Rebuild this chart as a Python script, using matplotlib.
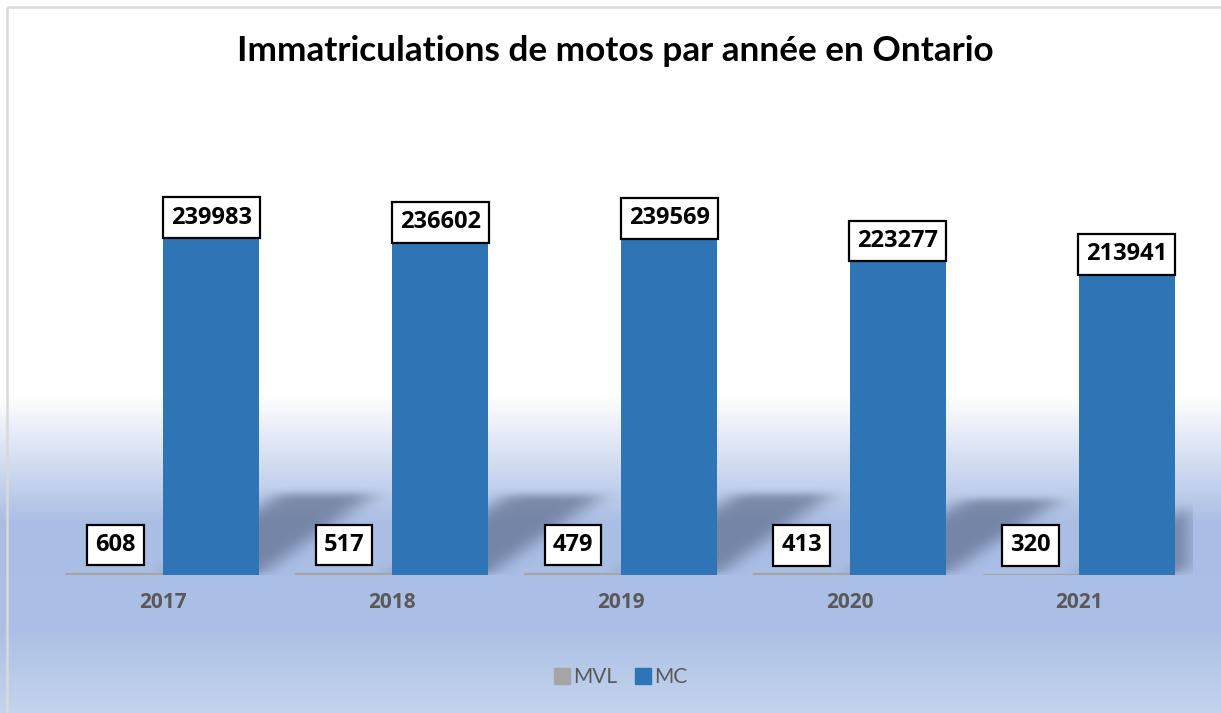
import numpy as np
import matplotlib
matplotlib.use("Agg")
import matplotlib.pyplot as plt
from matplotlib.path import Path
from matplotlib.lines import Line2D

# ---- data ----
years = ["2017", "2018", "2019", "2020", "2021"]
mvl = [608, 517, 479, 413, 320]
mc = [239983, 236602, 239569, 223277, 213941]
series_names = ["MVL", "MC"]
title = "Immatriculations de motos par année en Ontario"

GRAY = "#a5a5a5"
BLUE = "#2e75b6"
TXT = "#595959"
FONT = "Lato"
NUMFONT = "Open Sans"

W, H = 1221, 713
fig = plt.figure(figsize=(W / 100, H / 100), dpi=100)

# ---- background gradient ----
bg = fig.add_axes([0, 0, 1, 1], zorder=0)
bg.set_axis_off()
ys = np.arange(H)  # pixel rows from top
stops_y = [0, 395, 522, 630, 713]
stops_c = np.array([[255, 255, 255], [255, 255, 255], [170, 190, 228],
                    [172, 192, 229], [196, 212, 237]]) / 255.0
col = np.stack([np.interp(ys, stops_y, stops_c[:, k]) for k in range(3)], axis=1)
img = np.repeat(col[:, None, :], 8, axis=1)
bg.imshow(img, aspect="auto", extent=[0, 1, 0, 1], origin="upper")
bg.set_xlim(0, 1)
bg.set_ylim(0, 1)
# chart frame (left and top edges visible)
fx, fy = 7.5 / W, 1 - 6.5 / H
bg.plot([fx, fx], [0, fy], color="#d9d9d9", lw=1.8, solid_capstyle="butt")
bg.plot([fx, 1], [fy, fy], color="#d9d9d9", lw=1.8, solid_capstyle="butt")

# ---- main axes ----
left, right = 49 / W, 1193 / W
bottom = (H - 575) / H
ymax = 300000
top = (H - (575 - ymax * 337 / 239983)) / H
ax = fig.add_axes([left, bottom, right - left, top - bottom], zorder=1)
ax.patch.set_alpha(0)
for s in ax.spines.values():
    s.set_visible(False)

n = len(years)
x = np.arange(n)
bw = 0.42

# ---- shadows behind MC bars (blurred parallelograms) ----
nx, ny = 1400, 500
gx = np.linspace(-0.5, n - 0.5, nx)
gy_top = 110000
gy = np.linspace(0, gy_top, ny)
GX, GY = np.meshgrid(gx, gy)
mask = np.zeros_like(GX)
dx = 0.5
for xi, v in zip(x, mc):
    h = 0.24 * v
    t = GY / h
    u = GX - dx * t
    inside = (t >= 0) & (t <= 1) & (u >= xi) & (u <= xi + bw)
    mask = np.maximum(mask, inside.astype(float))


def box_blur(a, r, axis):
    k = np.ones(2 * r + 1) / (2 * r + 1)
    return np.apply_along_axis(lambda m: np.convolve(m, k, mode="same"), axis, a)


for _ in range(3):
    mask = box_blur(mask, 13, 1)
    mask = box_blur(mask, 11, 0)
rgba = np.zeros((ny, nx, 4))
rgba[..., 0] = 0.25
rgba[..., 1] = 0.30
rgba[..., 2] = 0.42
rgba[..., 3] = np.clip(mask * 0.5, 0, 1)
ax.imshow(rgba, extent=[gx[0], gx[-1], 0, gy_top], origin="lower",
          aspect="auto", zorder=1, interpolation="bilinear")
ax.set_xlim(-0.5, n - 0.5)
ax.set_ylim(0, ymax)

# ---- bars ----
ax.bar(x - bw / 2, mvl, bw, color=GRAY, edgecolor=GRAY, linewidth=1.6,
       zorder=2, label=series_names[0])
ax.bar(x + bw / 2, mc, bw, color=BLUE, zorder=3, label=series_names[1])


# ---- data labels ----
def label_box(x0, y0, width, height, mutation_size):
    px, py = 0.34 * mutation_size, 0.35 * mutation_size
    xa, ya = x0 - px, y0 - py
    xb, yb = x0 + width + px, y0 + height + py
    return Path([(xa, ya), (xb, ya), (xb, yb), (xa, yb), (xa, ya)],
                [Path.MOVETO, Path.LINETO, Path.LINETO, Path.LINETO, Path.CLOSEPOLY])


def box():
    return dict(boxstyle=label_box, facecolor="white", edgecolor="black", linewidth=1.6)


for xi, v in zip(x, mvl):
    ax.annotate(f"{v}", (xi - bw / 2, v), xytext=(0, 21), textcoords="offset points",
                ha="center", va="center", fontsize=17, fontweight="bold",
                family=NUMFONT, color="black", bbox=box(), zorder=5)
for xi, v in zip(x, mc):
    ax.annotate(f"{v}", (xi + bw / 2, v), xytext=(0, 14.6), textcoords="offset points",
                ha="center", va="center", fontsize=17, fontweight="bold",
                family=NUMFONT, color="black", bbox=box(), zorder=5)

# ---- axes ticks ----
ax.set_xticks(x)
ax.set_xticklabels(years, fontsize=15, fontweight="bold", color=TXT, family=NUMFONT)
ax.tick_params(axis="x", length=0, pad=12)
ax.set_yticks([])

# ---- title ----
fig.text(615 / W, 1 - 51 / H, title, ha="center", va="center", fontsize=25.3,
         fontweight="bold", family=FONT, color="black")

# ---- legend ----
handles = [Line2D([], [], marker="s", linestyle="none", markersize=11.5,
                  markerfacecolor=GRAY, markeredgecolor=GRAY),
           Line2D([], [], marker="s", linestyle="none", markersize=11.5,
                  markerfacecolor=BLUE, markeredgecolor=BLUE)]
leg = fig.legend(handles, series_names, loc="center", bbox_to_anchor=(620 / W, 1 - 677 / H),
                 ncol=2, frameon=False, handletextpad=0.1, columnspacing=0.8,
                 handlelength=0.9, prop={"family": FONT, "size": 15})
for t in leg.get_texts():
    t.set_color(TXT)

fig.savefig("out.png", dpi=100)
